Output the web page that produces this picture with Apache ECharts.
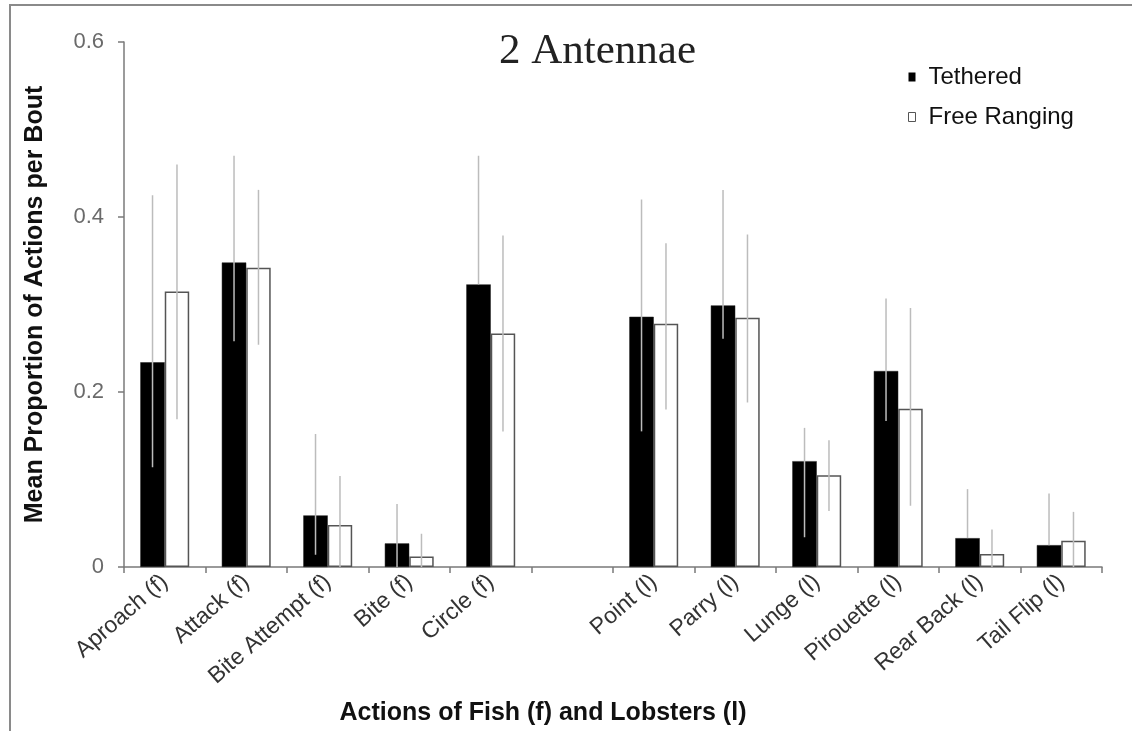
<!DOCTYPE html>
<html>
<head>
<meta charset="utf-8">
<script src="https://cdn.jsdelivr.net/npm/echarts@6/dist/echarts.min.js"></script>
<style>
html,body{margin:0;padding:0;background:#fff;}
#chart{width:1132px;height:731px;}
</style>
</head>
<body>
<div id="chart"></div>
<script>
// ---- data ----
var categories = ['Aproach (f)','Attack (f)','Bite Attempt (f)','Bite (f)','Circle (f)','','Point (l)','Parry (l)','Lunge (l)','Pirouette (l)','Rear Back (l)','Tail Flip (l)'];
var tethered      = [0.234,0.348,0.059,0.027,0.323,null,0.286,0.299,0.121,0.224,0.033,0.025];
var freeRanging   = [0.315,0.342,0.048,0.012,0.267,null,0.278,0.285,0.105,0.181,0.015,0.030];
var tetheredLow   = [0.114,0.258,0.014,0.000,0.323,null,0.155,0.261,0.034,0.167,0.033,0.025];
var tetheredHigh  = [0.425,0.470,0.152,0.072,0.470,null,0.420,0.431,0.159,0.307,0.089,0.084];
var freeLow       = [0.169,0.254,0.000,0.000,0.155,null,0.180,0.188,0.064,0.070,0.000,0.000];
var freeHigh      = [0.460,0.431,0.104,0.038,0.379,null,0.370,0.380,0.145,0.296,0.043,0.063];
var yTicks = [0, 0.2, 0.4, 0.6];

function errData(lo, hi){
  var out = [];
  for (var i = 0; i < lo.length; i++) {
    if (lo[i] == null) continue;
    out.push([i, lo[i], hi[i]]);
  }
  return out;
}
function errRenderer(side){
  return function(params, api){
    var idx = api.value(0);
    var band = api.size([1, 0])[0];
    var off = side * band * 0.15;
    var p1 = api.coord([idx, api.value(1)]);
    var p2 = api.coord([idx, api.value(2)]);
    return {
      type: 'line',
      shape: {x1: p1[0] + off, y1: p1[1], x2: p1[0] + off, y2: p2[1]},
      style: {stroke: '#bcbcbc', lineWidth: 1.5}
    };
  };
}

var chart = echarts.init(document.getElementById('chart'), null, {renderer: 'canvas'});
var axisGray = '#7a7a7a';
chart.setOption({
  backgroundColor: '#fff',
  animation: false,
  title: {
    text: '2 Antennae',
    left: 494, top: 25,
    textStyle: {fontFamily: 'Liberation Serif', fontSize: 43, fontWeight: 'normal', color: '#222'}
  },
  legend: {
    orient: 'vertical',
    left: 903, top: 60,
    itemWidth: 7, itemHeight: 9, itemGap: 16,
    data: [
      {name: 'Tethered', icon: 'rect', itemStyle: {color: '#000', borderColor: '#000', borderWidth: 0}},
      {name: 'Free Ranging', icon: 'rect', itemStyle: {color: '#fff', borderColor: '#555', borderWidth: 1}}
    ],
    textStyle: {fontFamily: 'Liberation Sans', fontSize: 24, color: '#111', padding: [0,0,0,8]}
  },
  graphic: [{
    type: 'rect', silent: true,
    shape: {x: 10, y: 5, width: 1300, height: 900},
    style: {fill: 'none', stroke: '#8a8a8a', lineWidth: 2}
  }],
  grid: {left: 124, right: 30, top: 42, bottom: 163, containLabel: false},
  xAxis: {
    type: 'category',
    data: categories,
    boundaryGap: true,
    name: 'Actions of Fish (f) and Lobsters (l)',
    nameLocation: 'middle',
    nameGap: 134,
    nameTextStyle: {fontFamily: 'Liberation Sans', fontSize: 25, fontWeight: 'bold', color: '#111', padding: [0, 140, 0, 0]},
    axisLine: {show: true, lineStyle: {color: axisGray, width: 1.5}},
    axisTick: {show: true, alignWithLabel: false, interval: 0, length: 6, lineStyle: {color: axisGray, width: 1.5}},
    axisLabel: {interval: 0, rotate: 41, margin: 12, fontFamily: 'Liberation Sans', fontSize: 23, color: '#333'},
    splitLine: {show: false}
  },
  yAxis: {
    type: 'value',
    min: 0, max: 0.6, interval: 0.2,
    name: 'Mean Proportion of Actions per Bout',
    nameLocation: 'middle',
    nameGap: 76,
    nameRotate: 90,
    nameTextStyle: {fontFamily: 'Liberation Sans', fontSize: 25, fontWeight: 'bold', color: '#111'},
    axisLine: {show: true, lineStyle: {color: axisGray, width: 1.5}},
    axisTick: {show: true, inside: false, length: 6, lineStyle: {color: axisGray, width: 1.5}},
    axisLabel: {
      margin: 20, fontFamily: 'Liberation Sans', fontSize: 22, color: '#6a6a6a',
      formatter: function(v){ var t = yTicks.filter(function(x){return Math.abs(x - v) < 1e-9;}); return t.length ? String(+v.toFixed(1)) : ''; }
    },
    splitLine: {show: false}
  },
  series: [
    {
      name: 'Tethered', type: 'bar', data: tethered,
      barWidth: '30%', barGap: '0%',
      itemStyle: {color: '#000', borderColor: '#222', borderWidth: 0.5},
      z: 2
    },
    {
      name: 'Free Ranging', type: 'bar', data: freeRanging,
      barWidth: '30%', barGap: '0%',
      itemStyle: {color: '#fff', borderColor: '#555', borderWidth: 1.5},
      z: 2
    },
    {
      name: 'TetheredErr', type: 'custom', data: errData(tetheredLow, tetheredHigh),
      renderItem: errRenderer(-1), encode: {x: 0, y: [1, 2]}, z: 5, silent: true
    },
    {
      name: 'FreeErr', type: 'custom', data: errData(freeLow, freeHigh),
      renderItem: errRenderer(1), encode: {x: 0, y: [1, 2]}, z: 5, silent: true
    }
  ]
});
</script>
</body>
</html>
